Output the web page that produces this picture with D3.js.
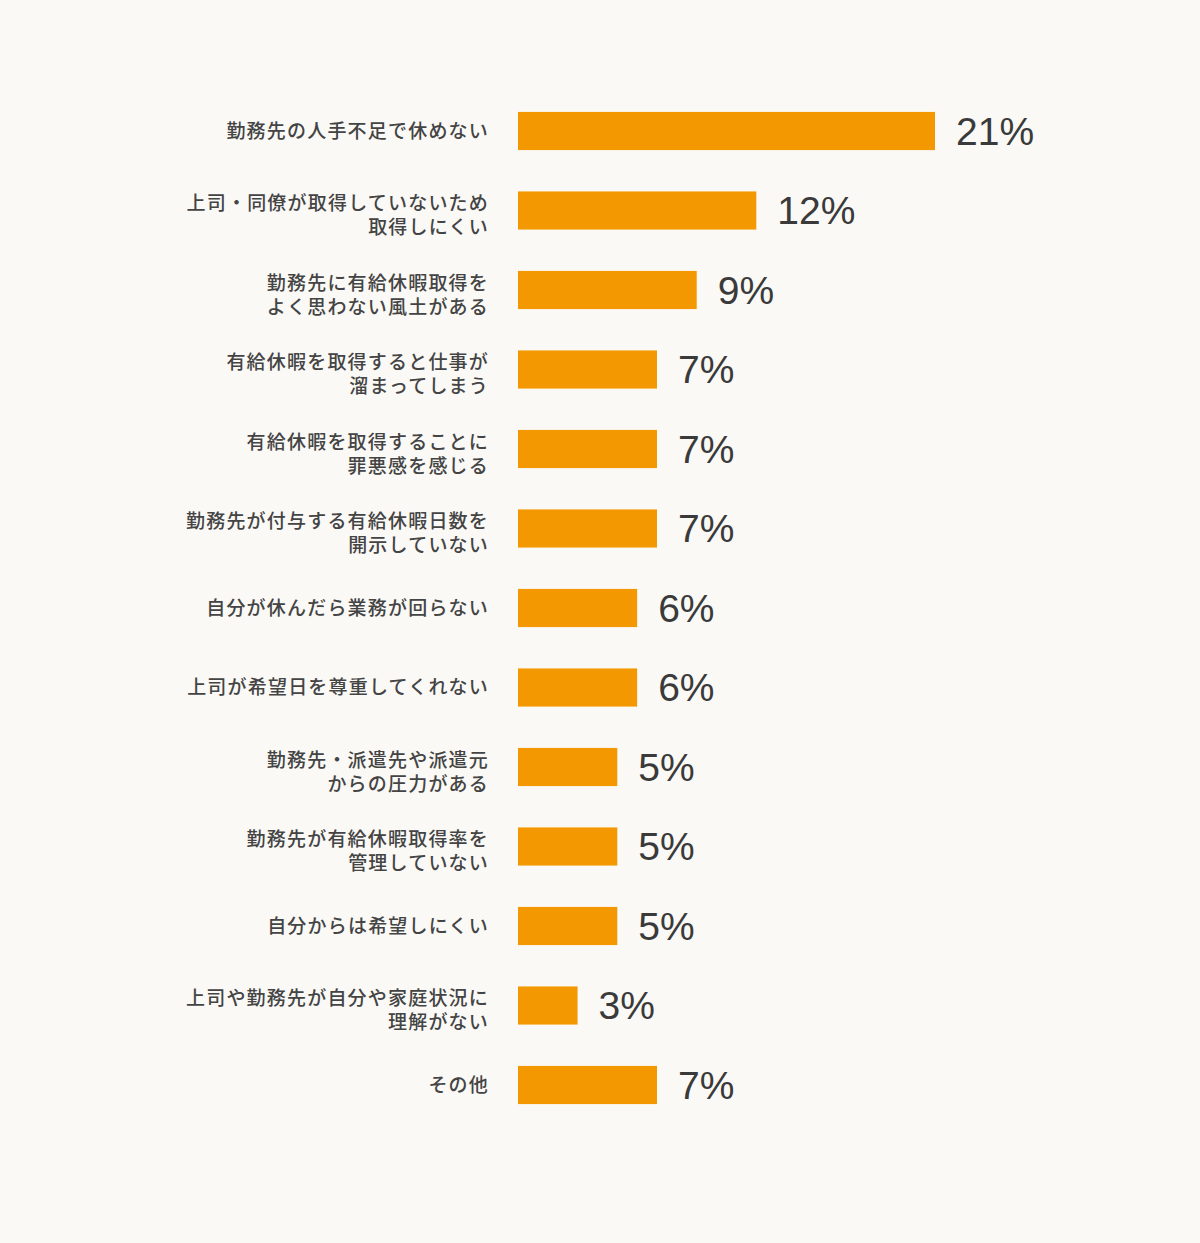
<!DOCTYPE html>
<html>
<head>
<meta charset="utf-8">
<script src="https://cdn.jsdelivr.net/npm/d3@7"></script>
<style>
  html, body { margin:0; padding:0; background:#faf9f6; }
  svg { display:block; }
  .cat { font-family:"Noto Sans CJK JP","Noto Sans",sans-serif; font-size:19px; font-weight:500; fill:#444; letter-spacing:1.2px; }
  .val { font-family:"Liberation Sans",Arial,sans-serif; font-size:39px; fill:#3a3a3a; }
</style>
</head>
<body>
<div id="chart"></div>
<script>
// reasons (line breaks as in the picture)
var categories = [
  "勤務先の人手不足で休めない",
  "上司・同僚が取得していないため\n取得しにくい",
  "勤務先に有給休暇取得を\nよく思わない風土がある",
  "有給休暇を取得すると仕事が\n溜まってしまう",
  "有給休暇を取得することに\n罪悪感を感じる",
  "勤務先が付与する有給休暇日数を\n開示していない",
  "自分が休んだら業務が回らない",
  "上司が希望日を尊重してくれない",
  "勤務先・派遣先や派遣元\nからの圧力がある",
  "勤務先が有給休暇取得率を\n管理していない",
  "自分からは希望しにくい",
  "上司や勤務先が自分や家庭状況に\n理解がない",
  "その他"
];
var values = [21, 12, 9, 7, 7, 7, 6, 6, 5, 5, 5, 3, 7];

var width = 1200, height = 1243;
var barLeft = 518, labelRight = 489;

var svg = d3.select("#chart").append("svg")
            .attr("width",width)
            .attr("height",height);

var x = d3.scaleLinear()
          .domain([0,21])
          .range([barLeft,935]);

var y = d3.scaleBand()
          .domain(d3.range(categories.length))
          .range([91.25,1124.75])
          .paddingInner(0.52)
          .paddingOuter(0.26);

var rows = svg.selectAll("g.row")
              .data(values)
              .enter()
              .append("g")
              .attr("class","row");

rows.append("rect")
    .attr("x",x(0))
    .attr("y",function(d,i){return y(i);})
    .attr("width",function(d){return x(d)-x(0);})
    .attr("height",y.bandwidth())
    .attr("fill","#f39800");

rows.append("text")
    .attr("class","val")
    .attr("x",function(d){return x(d)+21;})
    .attr("y",function(d,i){return y(i)+y.bandwidth()/2;})
    .attr("dominant-baseline","central")
    .text(function(d){return d+"%";});

rows.each(function(d,i){
  var lines = categories[i].split("\n");
  var cy = y(i)+y.bandwidth()/2;
  var n = lines.length;
  var t = d3.select(this).append("text")
            .attr("class","cat")
            .attr("text-anchor","end");
  lines.forEach(function(l,k){
    t.append("tspan")
     .attr("x",labelRight)
     .attr("y",cy + (k-(n-1)/2)*24 + (n>1 ? 3 : -2))
     .attr("dominant-baseline","central")
     .text(l);
  });
});
</script>
</body>
</html>
